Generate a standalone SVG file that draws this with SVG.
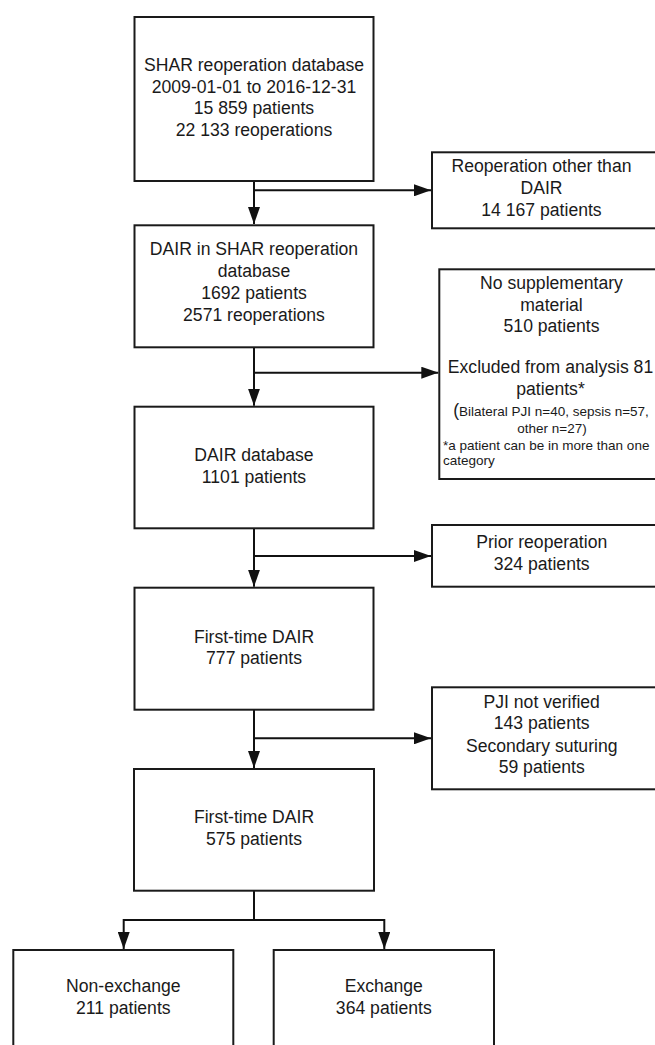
<svg xmlns="http://www.w3.org/2000/svg" width="655" height="1045" viewBox="0 0 655 1045">
<defs>
<marker id="ah" viewBox="0 0 17 12" refX="17" refY="6" markerWidth="17" markerHeight="12" markerUnits="userSpaceOnUse" orient="auto">
<path d="M0,0 L17,6 L0,12 z" fill="#111"/>
</marker>
<style>
.box{fill:#fff;stroke:#1a1a1a;stroke-width:2}
.t{font-family:"Liberation Sans",Arial,sans-serif;font-size:17.6px;fill:#1a1a1a;text-anchor:middle}
.s{font-family:"Liberation Sans",Arial,sans-serif;font-size:13.5px;fill:#1a1a1a}
.c{fill:none;stroke:#111;stroke-width:2}
</style>
</defs>
<rect width="655" height="1045" fill="#fff"/>
<g id="connectors">
<path class="c" d="M254,181 V224" marker-end="url(#ah)"/>
<path class="c" d="M254,190.3 H431" marker-end="url(#ah)"/>
<path class="c" d="M254,347.3 V405.7" marker-end="url(#ah)"/>
<path class="c" d="M254,372.7 H438.3" marker-end="url(#ah)"/>
<path class="c" d="M254,528.3 V586.7" marker-end="url(#ah)"/>
<path class="c" d="M254,556 H431" marker-end="url(#ah)"/>
<path class="c" d="M254,709.7 V768" marker-end="url(#ah)"/>
<path class="c" d="M254,738.3 H431" marker-end="url(#ah)"/>
<path class="c" d="M254,890.7 V920 M123.7,920 H384.3"/>
<path class="c" d="M123.7,919 V949" marker-end="url(#ah)"/>
<path class="c" d="M384.3,919 V949" marker-end="url(#ah)"/>
</g>
<g id="n1">
<rect class="box" x="134.5" y="17" width="239" height="164"/>
<text class="t" x="254" y="71">SHAR reoperation database</text>
<text class="t" x="254" y="92.5">2009-01-01 to 2016-12-31</text>
<text class="t" x="254" y="114">15 859 patients</text>
<text class="t" x="254" y="135.5">22 133 reoperations</text>
</g>
<g id="r1">
<rect class="box" x="432" y="152.3" width="240" height="76"/>
<text class="t" x="541.5" y="172.3">Reoperation other than</text>
<text class="t" x="541.5" y="194.3">DAIR</text>
<text class="t" x="541.5" y="215.7">14 167 patients</text>
</g>
<g id="n2">
<rect class="box" x="134.5" y="225.3" width="239" height="122"/>
<text class="t" x="254" y="255">DAIR in SHAR reoperation</text>
<text class="t" x="254" y="276.7">database</text>
<text class="t" x="254" y="298.7">1692 patients</text>
<text class="t" x="254" y="320.7">2571 reoperations</text>
</g>
<g id="r2">
<rect class="box" x="439.3" y="269.3" width="240" height="209.7"/>
<text class="t" x="551.5" y="289.3">No supplementary</text>
<text class="t" x="551.5" y="310.7">material</text>
<text class="t" x="551.5" y="331.7">510 patients</text>
<text class="t" x="550.5" y="373">Excluded from analysis 81</text>
<text class="t" x="550.5" y="394.5">patients*</text>
<text class="s" x="551" y="415.5" text-anchor="middle"><tspan font-size="17.6px">(</tspan>Bilateral PJI n=40, sepsis n=57,</text>
<text class="s" x="552" y="432.5" text-anchor="middle">other n=27)</text>
<text class="s" x="443" y="449.5">*a patient can be in more than one</text>
<text class="s" x="443" y="465">category</text>
</g>
<g id="n3">
<rect class="box" x="134.5" y="406.7" width="239" height="121.6"/>
<text class="t" x="254" y="460.7">DAIR database</text>
<text class="t" x="254" y="482.7">1101 patients</text>
</g>
<g id="r3">
<rect class="box" x="432" y="525" width="240" height="61.7"/>
<text class="t" x="541.7" y="548.3">Prior reoperation</text>
<text class="t" x="541.7" y="570">324 patients</text>
</g>
<g id="n4">
<rect class="box" x="134.5" y="587.7" width="239" height="122"/>
<text class="t" x="254" y="642.7">First-time DAIR</text>
<text class="t" x="254" y="664.3">777 patients</text>
</g>
<g id="r4">
<rect class="box" x="432" y="687.3" width="240" height="102"/>
<text class="t" x="541.7" y="707.7">PJI not verified</text>
<text class="t" x="541.7" y="729.3">143 patients</text>
<text class="t" x="541.7" y="751.7">Secondary suturing</text>
<text class="t" x="541.7" y="773.3">59 patients</text>
</g>
<g id="n5">
<rect class="box" x="134" y="769" width="240" height="121.7"/>
<text class="t" x="254" y="823.3">First-time DAIR</text>
<text class="t" x="254" y="845">575 patients</text>
</g>
<g id="n6">
<rect class="box" x="13.3" y="950" width="220" height="110"/>
<text class="t" x="123.3" y="992.3">Non-exchange</text>
<text class="t" x="123.3" y="1014">211 patients</text>
</g>
<g id="n7">
<rect class="box" x="273.7" y="950" width="220.3" height="110"/>
<text class="t" x="383.8" y="992.3">Exchange</text>
<text class="t" x="383.8" y="1014">364 patients</text>
</g>
</svg>
